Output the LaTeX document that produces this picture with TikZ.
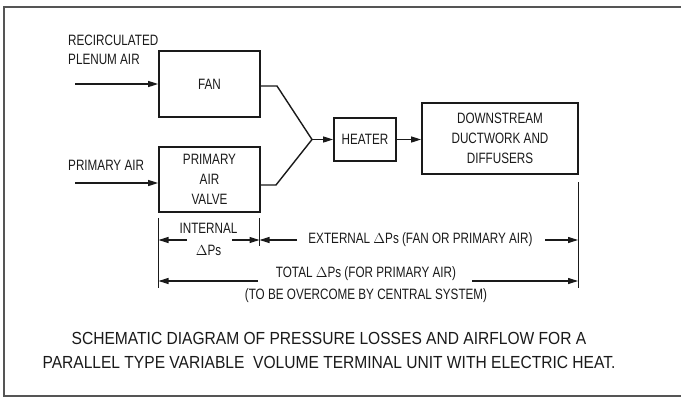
\documentclass[tikz,border=0pt]{standalone}
\usepackage{fontspec}
\setmainfont{Liberation Sans}[FakeStretch=0.78]
\newfontfamily\capfont{Liberation Sans}[FakeStretch=0.89]
\usetikzlibrary{arrows.meta,calc}
\definecolor{ink}{HTML}{1A1A1A}
\definecolor{framec}{HTML}{555555}
\tikzset{
  lbl/.style={text=ink,font=\fontsize{15}{19}\selectfont,inner sep=0pt,align=center},
  lbll/.style={lbl,align=left,anchor=west},
  boxn/.style={draw=ink,line width=1.8pt,lbl,inner sep=0pt},
  flow/.style={draw=ink,line width=1.3pt,-{Triangle[length=10pt,width=6pt]}},
  dimarrow/.style={draw=ink,line width=1.1pt,-{Triangle[length=10pt,width=6pt]}},
  ext/.style={draw=ink,line width=0.9pt},
  joint/.style={draw=ink,line width=1.4pt,line join=miter},
  captext/.style={text=ink,font=\capfont\fontsize{17.5}{24}\selectfont,inner sep=0pt,align=center}
}
\begin{document}
\begin{tikzpicture}[x=1pt,y=-1pt]
\useasboundingbox (0,0) rectangle (681,397);
\fill[white] (0,0) rectangle (681,397);
% frame
\draw[framec,line width=1.4pt] (682,7) -- (4,7) -- (4,396) -- (682,396);

% boxes
\node[boxn,minimum width=101pt,minimum height=66pt] (fan) at (209.5,84) {FAN};
\node[boxn,minimum width=101pt,minimum height=65pt] (pav) at (209.5,179.5) {PRIMARY\\[1pt]AIR\\[1pt]VALVE};
\node[boxn,minimum width=62pt,minimum height=43pt] (heater) at (365,139.5) {HEATER};
\node[boxn,minimum width=156pt,minimum height=71pt] (down) at (500,138.5) {DOWNSTREAM\\[1pt]DUCTWORK AND\\[1pt]DIFFUSERS};

% inlet labels
\node[lbll] (recirc) at (68,49.5) {RECIRCULATED\\PLENUM AIR};
\node[lbll] (prim) at (68,165.5) {PRIMARY AIR};

% inlet arrows
\coordinate (rin) at (75,84);
\coordinate (pin) at (75,183);
\draw[flow] (rin) -- (rin -| fan.west);
\draw[flow] (pin) -- (pin -| pav.west);

% merge
\coordinate (fo) at (fan.east |- 0,86);
\coordinate (po) at (pav.east |- 0,185);
\coordinate (fk) at (277,86);
\coordinate (pk) at (276,185);
\coordinate (jn) at (312,139.5);
\draw[joint] (fo) -- (fk) -- (jn) -- (pk) -- (po);
\draw[flow] (jn) -- (heater.west);
\draw[flow] (heater.east) -- (down.west |- heater.east);

% extension lines
\coordinate (lx) at (158.5,218);
\coordinate (lxb) at (158.5,288);
\coordinate (mx) at (259.5,218);
\coordinate (mxb) at (259.5,246);
\coordinate (rx) at (578,182);
\coordinate (rxb) at (578,288);
\draw[ext] (lx) -- (lxb);
\draw[ext] (mx) -- (mxb);
\draw[ext] (rx) -- (rxb);

% internal
\node[lbl] (intl) at (208.5,239) {INTERNAL\\[3pt]$\Delta$Ps};
\coordinate (ia) at (187,240);
\coordinate (ib) at (232,240);
\draw[dimarrow] (ia) -- (ia -| lx);
\draw[dimarrow] (ib) -- (ib -| mx);

% external
\node[lbl] (extl) at (420.5,240) {EXTERNAL $\Delta$Ps (FAN OR PRIMARY AIR)};
\coordinate (ea) at (297,240);
\coordinate (eb) at (545,240);
\draw[dimarrow] (ea) -- (ea -| mx);
\draw[dimarrow] (eb) -- (eb -| rx);

% total
\node[lbl] (totl) at (366,284.5) {TOTAL $\Delta$Ps (FOR PRIMARY AIR)\\[3pt](TO BE OVERCOME BY CENTRAL SYSTEM)};
\coordinate (ta) at (258,281);
\coordinate (tb) at (472,281);
\draw[dimarrow] (ta) -- (ta -| lx);
\draw[dimarrow] (tb) -- (tb -| rx);

% caption
\node[captext] (caption) at (329,350) {SCHEMATIC DIAGRAM OF PRESSURE LOSSES AND AIRFLOW FOR A\\PARALLEL TYPE VARIABLE\ \ VOLUME TERMINAL UNIT WITH ELECTRIC HEAT.};
\end{tikzpicture}
\end{document}
